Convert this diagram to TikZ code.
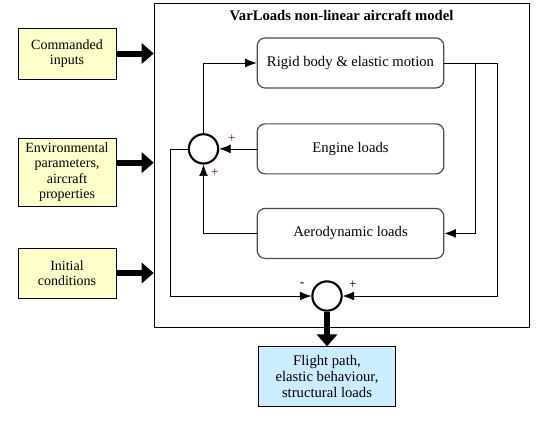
\documentclass[tikz,border=0pt]{standalone}
\usepackage{fontspec}
\setmainfont{Liberation Serif}
\usepackage{xcolor}
\usetikzlibrary{positioning, arrows.meta, calc}

\definecolor{inyellow}{HTML}{FFFFCC}
\definecolor{outblue}{HTML}{CCECFF}
\definecolor{signred}{HTML}{800020}

\begin{document}
\begin{tikzpicture}[ x = 0.75pt, y = -0.75pt
                     , font = \fontsize{11}{12.5}\selectfont
                     , >={Latex[width=6.5pt, length=8.5pt]}
                     , block/.style = { rectangle
                                      , rounded corners = 6pt
                                      , draw = black!70
                                      , line width = 0.9pt
                                      , align = center
                                      , minimum width = 140pt
                                      , minimum height = 37.5pt }
                     , inbox/.style = { rectangle
                                      , draw = black
                                      , fill = inyellow
                                      , align = center
                                      , font = \fontsize{10.5}{11.5}\selectfont
                                      , minimum width = 73.5pt }
                     , sumnode/.style = { circle
                                        , draw = black
                                        , line width = 1.6pt
                                        , fill = white
                                        , minimum size = 22pt
                                        , inner sep = 0pt }
                     , fat/.style = { line width = 4.5pt
                                    , -{Triangle[length=9pt, width=15pt]} }
                     , sign/.style = { font = \fontsize{10}{10}\selectfont, inner sep = 0pt }
                     ]

  \useasboundingbox (0,0) rectangle (548,421);

  % model frame and its title
  \node (model) [draw, minimum width = 281.25pt, minimum height = 243pt] at (341.5,165) {};
  \node (title) [below = 2pt of model.north, font = \fontsize{11}{12}\selectfont\bfseries] {VarLoads non-linear aircraft model};

  % inner blocks
  \node (rigid) [block] at (350.5,63) {Rigid body \& elastic motion};
  \node (engine) [block, below = 26pt of rigid] {Engine loads};
  \node (aero) [block, below = 25pt of engine] {Aerodynamic loads};

  \node (sumA) [sumnode, left = 28pt of engine] {};
  \node (sumB) [sumnode] at (327,296) {};

  % inputs and output
  \node (cmd) [inbox, minimum height = 38pt] at (67,53.5) {Commanded\\inputs};
  \node (env) [inbox, minimum height = 49.5pt] at (67,172) {Environmental\\parameters,\\aircraft\\properties};
  \node (init) [inbox, minimum height = 37.5pt] at (67,273) {Initial\\conditions};
  \node (result) [inbox, fill = outblue, minimum width = 103pt, minimum height = 45pt, below = 26pt of sumB
                 , font = \fontsize{11}{12}\selectfont]
    {Flight path,\\elastic behaviour,\\structural loads};

  \draw[fat] (cmd.east) -- (cmd.east -| model.west);
  \draw[fat] ([yshift=7pt]env.east) -- ([yshift=7pt]env.east -| model.west);
  \draw[fat] (init.east) -- (init.east -| model.west);
  \draw[fat] (sumB) -- (result);

  % signal lines
  \draw[->] (sumA) |- (rigid);
  \draw[->] (engine) -- (sumA);
  \draw[->] (aero) -| (sumA);
  \draw[->] (sumA.west) -- ++(-18,0) |- (sumB.west);
  \draw[->] (rigid.east) -- ++(31,0) |- (aero.east);
  \draw[->] (rigid.east) -- ++(53,0) |- (sumB.east);

  % signs
  \node (pEngine) [sign, text = signred] at (232,139) {+};
  \node (pAero) [sign, text = signred] at (215,173) {+};
  \node (mB) [sign] at (302,285) {-};
  \node (pB) [sign] at (353,285) {+};

\end{tikzpicture}
\end{document}
